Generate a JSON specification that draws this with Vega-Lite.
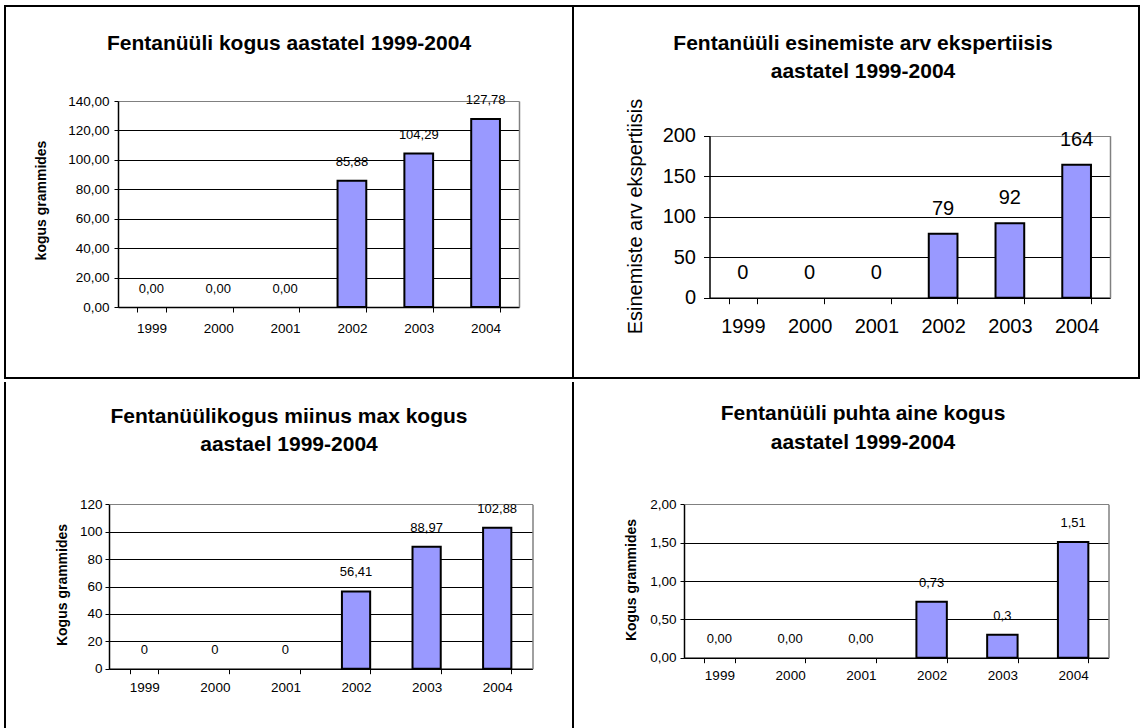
{
  "$schema": "https://vega.github.io/schema/vega-lite/v6.json",
  "padding": {"left": 4, "top": 5, "right": 0, "bottom": 0},
  "spacing": 0,
  "datasets": {
    "p1": [
      {"year": "1999", "value": 0, "label": "0,00"},
      {"year": "2000", "value": 0, "label": "0,00"},
      {"year": "2001", "value": 0, "label": "0,00"},
      {"year": "2002", "value": 85.88, "label": "85,88"},
      {"year": "2003", "value": 104.29, "label": "104,29"},
      {"year": "2004", "value": 127.78, "label": "127,78"}
    ],
    "p2": [
      {"year": "1999", "value": 0, "label": "0"},
      {"year": "2000", "value": 0, "label": "0"},
      {"year": "2001", "value": 0, "label": "0"},
      {"year": "2002", "value": 79, "label": "79"},
      {"year": "2003", "value": 92, "label": "92"},
      {"year": "2004", "value": 164, "label": "164"}
    ],
    "p3": [
      {"year": "1999", "value": 0, "label": "0"},
      {"year": "2000", "value": 0, "label": "0"},
      {"year": "2001", "value": 0, "label": "0"},
      {"year": "2002", "value": 56.41, "label": "56,41"},
      {"year": "2003", "value": 88.97, "label": "88,97"},
      {"year": "2004", "value": 102.88, "label": "102,88"}
    ],
    "p4": [
      {"year": "1999", "value": 0, "label": "0,00"},
      {"year": "2000", "value": 0, "label": "0,00"},
      {"year": "2001", "value": 0, "label": "0,00"},
      {"year": "2002", "value": 0.73, "label": "0,73"},
      {"year": "2003", "value": 0.3, "label": "0,3"},
      {"year": "2004", "value": 1.51, "label": "1,51"}
    ],
    "edge": [{"b": 0}, {"b": 1}]
  },
  "config": {
    "font": "Liberation Sans",
    "view": {"stroke": "black", "strokeWidth": 2},
    "axis": {
      "labelFont": "Liberation Sans",
      "titleFont": "Liberation Sans",
      "labelColor": "black",
      "titleColor": "black",
      "domainColor": "black",
      "tickColor": "black",
      "gridColor": "black",
      "gridWidth": 1,
      "domainWidth": 1.5,
      "tickWidth": 1,
      "labelOverlap": false,
      "labelFlush": false
    },
    "title": {"font": "Liberation Sans", "fontWeight": "bold", "color": "black", "anchor": "middle", "frame": "group", "baseline": "top"}
  },
  "vconcat": [
    {
      "hconcat": [
        {
          "width": 568, "height": 372,
          "title": {"text": "Fentanüüli kogus aastatel 1999-2004", "fontSize": 21, "offset": -48},
          "data": {"name": "p1"},
          "encoding": {
            "x": {"field": "year", "type": "nominal", "sort": null,
              "scale": {"domain": ["1999","2000","2001","2002","2003","2004"], "range": [113, 514], "paddingInner": 0.57, "paddingOuter": 0.285},
              "axis": {"orient": "bottom", "offset": -71, "tickBand": "extent", "tickSize": 5, "labelPadding": 9, "labelFontSize": 13.5, "labelAngle": 0, "title": null, "grid": false}}
          },
          "layer": [
            {
              "transform": [{"filter": "datum.value > 0"}],
              "mark": {"type": "bar", "fill": "#9999ff", "stroke": "black", "strokeWidth": 2},
              "encoding": {
                "y": {"field": "value", "type": "quantitative",
                  "scale": {"domain": [0, 140], "range": [301, 95]},
                  "axis": {"orient": "left", "offset": -113, "values": [0,20,40,60,80,100,120,140], "labelExpr": "replace(format(datum.value, '.2f'), '.', ',')", "tickSize": 4, "labelPadding": 5, "labelFontSize": 13.5, "title": "kogus grammides", "titleFontSize": 14, "titleFontWeight": "bold", "titleX": -77, "titleY": 194, "titleBaseline": "middle", "titleAlign": "center", "titleAngle": 270, "grid": true, "gridColor": {"condition": {"test": "datum.value === 140", "value": "#808080"}, "value": "black"}}}
              }
            },
            {
              "mark": {"type": "text", "baseline": "middle", "align": "center", "dy": -18.5, "fontSize": 13, "color": "black"},
              "encoding": {
                "y": {"field": "value", "type": "quantitative",
                  "axis": {"orient": "right", "offset": -54, "labels": false, "ticks": false, "grid": false, "title": null, "domainColor": "#808080", "domainWidth": 1.5}},
                "text": {"field": "label"}
              }
            }
          ],
          "resolve": {"axis": {"y": "independent"}}
        },
        {
          "width": 566, "height": 372,
          "title": {"text": ["Fentanüüli esinemiste arv ekspertiisis", "aastatel 1999-2004"], "fontSize": 21, "lineHeight": 28, "offset": -76, "dx": 7},
          "data": {"name": "p2"},
          "encoding": {
            "x": {"field": "year", "type": "nominal", "sort": null,
              "scale": {"domain": ["1999","2000","2001","2002","2003","2004"], "range": [136.5, 537], "paddingInner": 0.57, "paddingOuter": 0.285},
              "axis": {"orient": "bottom", "offset": -80.3, "tickBand": "extent", "tickSize": 6, "labelPadding": 13, "labelFontSize": 20, "labelAngle": 0, "title": null, "grid": false}}
          },
          "layer": [
            {
              "transform": [{"filter": "datum.value > 0"}],
              "mark": {"type": "bar", "fill": "#9999ff", "stroke": "black", "strokeWidth": 2},
              "encoding": {
                "y": {"field": "value", "type": "quantitative",
                  "scale": {"domain": [0, 200], "range": [291.7, 129.7]},
                  "axis": {"orient": "left", "offset": -136.5, "values": [0,50,100,150,200], "tickSize": 6, "labelPadding": 8, "labelFontSize": 20, "title": "Esinemiste arv ekspertiisis", "titleFontSize": 20, "titleFontWeight": "normal", "titleX": -74.5, "titleY": 210, "titleBaseline": "middle", "titleAlign": "center", "titleAngle": 270, "grid": true, "gridColor": {"condition": {"test": "datum.value === 200", "value": "#808080"}, "value": "black"}}}
              }
            },
            {
              "mark": {"type": "text", "baseline": "middle", "align": "center", "dy": -25, "fontSize": 20, "color": "black"},
              "encoding": {
                "y": {"field": "value", "type": "quantitative",
                  "axis": {"orient": "right", "offset": -29, "labels": false, "ticks": false, "grid": false, "title": null, "domainColor": "#808080", "domainWidth": 1.5}},
                "text": {"field": "label"}
              }
            }
          ],
          "resolve": {"axis": {"y": "independent"}}
        }
      ],
      "spacing": 0,
      "bounds": "flush"
    },
    {
      "hconcat": [
        {
          "width": 568, "height": 349,
          "view": {"stroke": null},
          "title": {"text": ["Fentanüülikogus miinus max kogus", "aastael 1999-2004"], "fontSize": 21, "lineHeight": 28, "offset": -76},
          "layer": [
            {
              "data": {"name": "p3"},
              "encoding": {
                "x": {"field": "year", "type": "nominal", "sort": null,
                  "scale": {"domain": ["1999","2000","2001","2002","2003","2004"], "range": [104, 527.5], "paddingInner": 0.6, "paddingOuter": 0.3},
                  "axis": {"orient": "bottom", "offset": -62.3, "tickBand": "extent", "tickSize": 5, "labelPadding": 7, "labelFontSize": 13.5, "labelAngle": 0, "title": null, "grid": false}}
              },
              "layer": [
                {
                  "transform": [{"filter": "datum.value > 0"}],
                  "mark": {"type": "bar", "fill": "#9999ff", "stroke": "black", "strokeWidth": 2},
                  "encoding": {
                    "y": {"field": "value", "type": "quantitative",
                      "scale": {"domain": [0, 120], "range": [286.7, 122.3]},
                      "axis": {"orient": "left", "offset": -104, "values": [0,20,40,60,80,100,120], "tickSize": 4, "labelPadding": 3, "labelFontSize": 13.5, "title": "Kogus grammides", "titleFontSize": 14, "titleFontWeight": "bold", "titleX": -47, "titleY": 202.5, "titleBaseline": "middle", "titleAlign": "center", "titleAngle": 270, "grid": true, "gridColor": {"condition": {"test": "datum.value === 120", "value": "#808080"}, "value": "black"}}}
                  }
                },
                {
                  "mark": {"type": "text", "baseline": "middle", "align": "center", "dy": -19, "fontSize": 13, "color": "black"},
                  "encoding": {
                    "y": {"field": "value", "type": "quantitative",
                      "axis": {"orient": "right", "offset": -40.5, "labels": false, "ticks": false, "grid": false, "title": null, "domainColor": "#808080", "domainWidth": 1.5}},
                    "text": {"field": "label"}
                  }
                }
              ],
              "resolve": {"axis": {"y": "independent"}}
            },
            {
              "data": {"name": "edge"},
              "mark": {"type": "point", "opacity": 0},
              "encoding": {
                "y": {"field": "b", "type": "quantitative", "scale": {"domain": [0, 1], "range": [349, 0]},
                  "axis": {"orient": "left", "offset": 0, "translate": 0, "labels": false, "ticks": false, "grid": false, "title": null, "domainColor": "black", "domainWidth": 2}}
              }
            }
          ],
          "resolve": {"scale": {"y": "independent"}, "axis": {"y": "independent"}}
        },
        {
          "width": 566, "height": 349,
          "view": {"stroke": null},
          "title": {"text": ["Fentanüüli puhta aine kogus", "aastatel 1999-2004"], "fontSize": 21, "lineHeight": 29, "offset": -74, "dx": 7},
          "layer": [
            {
              "data": {"name": "p4"},
              "encoding": {
                "x": {"field": "year", "type": "nominal", "sort": null,
                  "scale": {"domain": ["1999","2000","2001","2002","2003","2004"], "range": [111, 535.5], "paddingInner": 0.57, "paddingOuter": 0.285},
                  "axis": {"orient": "bottom", "offset": -73.3, "tickBand": "extent", "tickSize": 5, "labelPadding": 6, "labelFontSize": 13.5, "labelAngle": 0, "title": null, "grid": false}}
              },
              "layer": [
                {
                  "transform": [{"filter": "datum.value > 0"}],
                  "mark": {"type": "bar", "fill": "#9999ff", "stroke": "black", "strokeWidth": 2},
                  "encoding": {
                    "y": {"field": "value", "type": "quantitative",
                      "scale": {"domain": [0, 2], "range": [275.7, 122.3]},
                      "axis": {"orient": "left", "offset": -111, "values": [0,0.5,1,1.5,2], "labelExpr": "replace(format(datum.value, '.2f'), '.', ',')", "tickSize": 4, "labelPadding": 4, "labelFontSize": 13.5, "title": "Kogus grammides", "titleFontSize": 14, "titleFontWeight": "bold", "titleX": -52.5, "titleY": 197.5, "titleBaseline": "middle", "titleAlign": "center", "titleAngle": 270, "grid": true, "gridColor": {"condition": {"test": "datum.value === 2", "value": "#808080"}, "value": "black"}}}
                  }
                },
                {
                  "mark": {"type": "text", "baseline": "middle", "align": "center", "dy": -19, "fontSize": 13, "color": "black"},
                  "encoding": {
                    "y": {"field": "value", "type": "quantitative",
                      "axis": {"orient": "right", "offset": -30.5, "labels": false, "ticks": false, "grid": false, "title": null, "domainColor": "#808080", "domainWidth": 1.5}},
                    "text": {"field": "label"}
                  }
                }
              ],
              "resolve": {"axis": {"y": "independent"}}
            },
            {
              "data": {"name": "edge"},
              "mark": {"type": "point", "opacity": 0},
              "encoding": {
                "y": {"field": "b", "type": "quantitative", "scale": {"domain": [0, 1], "range": [349, 0]},
                  "axis": {"orient": "left", "offset": 0, "translate": 0, "labels": false, "ticks": false, "grid": false, "title": null, "domainColor": "black", "domainWidth": 2}}
              }
            }
          ],
          "resolve": {"scale": {"y": "independent"}, "axis": {"y": "independent"}}
        }
      ],
      "spacing": 0,
      "bounds": "flush"
    }
  ]
}
